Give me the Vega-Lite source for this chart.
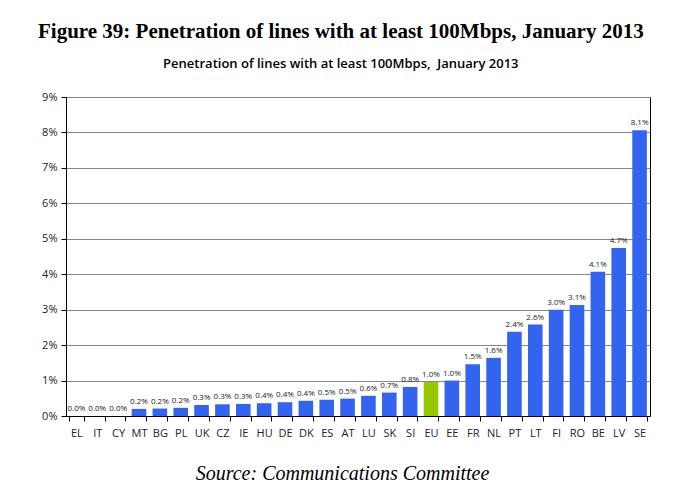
{
  "$schema": "https://vega.github.io/schema/vega-lite/v6.json",
  "width": 584,
  "height": 319,
  "autosize": {"type": "none"},
  "padding": {"left": 66, "top": 97, "right": 27, "bottom": 75},
  "background": "white",
  "title": {
    "text": "Figure 39: Penetration of lines with at least 100Mbps, January 2013",
    "subtitle": "Penetration of lines with at least 100Mbps,\u00a0 January 2013",
    "anchor": "middle",
    "frame": "bounds",
    "font": "Liberation Serif",
    "fontSize": 21,
    "fontWeight": "bold",
    "color": "#000000",
    "subtitleFont": "Open Sans",
    "subtitleFontSize": 13,
    "subtitleFontWeight": 600,
    "subtitleColor": "#000000",
    "subtitlePadding": 16,
    "offset": 20,
    "dx": -5
  },
  "data": {
    "values": [
      {"country": "EL", "value": 0.0},
      {"country": "IT", "value": 0.0},
      {"country": "CY", "value": 0.0},
      {"country": "MT", "value": 0.002},
      {"country": "BG", "value": 0.0021},
      {"country": "PL", "value": 0.0023},
      {"country": "UK", "value": 0.0031},
      {"country": "CZ", "value": 0.0033},
      {"country": "IE", "value": 0.0034},
      {"country": "HU", "value": 0.0036},
      {"country": "DE", "value": 0.0039},
      {"country": "DK", "value": 0.0043},
      {"country": "ES", "value": 0.0046},
      {"country": "AT", "value": 0.0049},
      {"country": "LU", "value": 0.0057},
      {"country": "SK", "value": 0.0066},
      {"country": "SI", "value": 0.0082},
      {"country": "EU", "value": 0.0096},
      {"country": "EE", "value": 0.0100},
      {"country": "FR", "value": 0.0146},
      {"country": "NL", "value": 0.0164},
      {"country": "PT", "value": 0.0238},
      {"country": "LT", "value": 0.0258},
      {"country": "FI", "value": 0.0300},
      {"country": "RO", "value": 0.0313},
      {"country": "BE", "value": 0.0407},
      {"country": "LV", "value": 0.0474},
      {"country": "SE", "value": 0.0806}
    ]
  },
  "encoding": {
    "x": {
      "field": "country",
      "type": "nominal",
      "sort": null,
      "scale": {"paddingInner": 0.3, "paddingOuter": 0.15},
      "axis": {
        "title": "Source: Communications Committee",
        "titleFont": "Liberation Serif",
        "titleFontStyle": "italic",
        "titleFontWeight": "normal",
        "titleFontSize": 20,
        "titleColor": "#000000",
        "titlePadding": 25,
        "titleX": 276,
        "labelAngle": 0,
        "labelFont": "Open Sans",
        "labelFontSize": 11,
        "labelColor": "#222222",
        "labelPadding": 6,
        "tickBand": "extent",
        "tickColor": "#000000",
        "tickSize": 5,
        "domainColor": "#000000",
        "grid": false
      }
    },
    "y": {
      "field": "value",
      "type": "quantitative",
      "scale": {"domain": [0, 0.09], "nice": false},
      "axis": {
        "title": null,
        "format": ".0%",
        "values": [0, 0.01, 0.02, 0.03, 0.04, 0.05, 0.06, 0.07, 0.08, 0.09],
        "labelFont": "Open Sans",
        "labelFontSize": 11,
        "labelColor": "#222222",
        "labelPadding": 4,
        "tickColor": "#000000",
        "tickSize": 5,
        "domainColor": "#000000",
        "gridColor": "#888888",
        "gridWidth": 1
      }
    }
  },
  "layer": [
    {
      "mark": {"type": "bar"},
      "encoding": {
        "color": {
          "condition": {"test": "datum.country === 'EU'", "value": "#95c800"},
          "value": "#3264f0"
        }
      }
    },
    {
      "mark": {"type": "text", "dy": -7, "font": "Open Sans", "fontSize": 8, "color": "#222222"},
      "encoding": {
        "text": {"field": "value", "type": "quantitative", "format": ".1%"}
      }
    }
  ],
  "config": {
    "view": {"stroke": "#000000", "strokeWidth": 1}
  }
}
